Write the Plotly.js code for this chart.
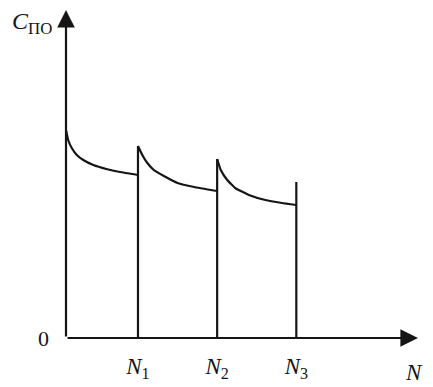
<!DOCTYPE html>
<html><head><meta charset="utf-8">
<script src="https://cdn.plot.ly/plotly-3.0.1.min.js"></script>
<style>html,body{margin:0;padding:0;background:#fff}</style>
</head><body><div id="chart" style="width:433px;height:387px"></div>
<script>
// Checkpoint positions along N
const nVals = [1.0, 2.1, 3.2];
const nLabels = ['<i>N</i><sub>1</sub>', '<i>N</i><sub>2</sub>', '<i>N</i><sub>3</sub>'];
// Cost segments
const seg1X = [0, 0.03, 0.08, 0.15, 0.24, 0.38, 0.56, 0.75, 1.0];
const seg1Y = [2.08, 1.98, 1.90, 1.83, 1.78, 1.73, 1.69, 1.66, 1.63];
const seg2X = [1.0, 1.06, 1.13, 1.22, 1.36, 1.55, 1.78, 2.1];
const seg2Y = [1.92, 1.83, 1.75, 1.68, 1.62, 1.55, 1.51, 1.47];
const seg3X = [2.1, 2.15, 2.24, 2.35, 2.54, 2.77, 3.0, 3.2];
const seg3Y = [1.79, 1.68, 1.58, 1.50, 1.43, 1.38, 1.35, 1.33];
// Heights of vertical drop lines at N1, N2, N3
const dropTops = [1.92, 1.79, 1.56];

const lineStyle = {color: '#151515', width: 2.2};
const traces = [];
[[seg1X, seg1Y], [seg2X, seg2Y], [seg3X, seg3Y]].forEach(([x, y]) => {
  traces.push({x, y, mode: 'lines', line: Object.assign({shape: 'spline', smoothing: 0.3}, lineStyle), hoverinfo: 'skip'});
});
nVals.forEach((n, i) => {
  traces.push({x: [n, n], y: [0, dropTops[i]], mode: 'lines', line: lineStyle, hoverinfo: 'skip'});
});

const layout = {
  width: 433, height: 387,
  margin: {l: 66, r: 10, t: 5, b: 49},
  paper_bgcolor: '#fff', plot_bgcolor: '#fff',
  showlegend: false,
  font: {family: 'Liberation Serif', color: '#151515', size: 22},
  xaxis: {range: [0, 4.96], showgrid: false, zeroline: false, showline: false,
          tickvals: nVals, ticktext: nLabels, ticks: '', ticklabelstandoff: 12,
          tickfont: {size: 23}, fixedrange: true},
  yaxis: {range: [0, 3.33], showgrid: false, zeroline: false, showline: false,
          tickvals: [0], ticktext: ['0'], ticks: '', ticklabelstandoff: 16,
          tickfont: {size: 22}, fixedrange: true},
  annotations: [
    {x: 4.89, y: 0, ax: 0, ay: 0, xref: 'x', yref: 'y', axref: 'x', ayref: 'y', text: '',
     showarrow: true, arrowhead: 2, arrowsize: 1.6, arrowwidth: 2.2, arrowcolor: '#151515'},
    {x: 0, y: 3.28, ax: 0, ay: 0, xref: 'x', yref: 'y', axref: 'x', ayref: 'y', text: '',
     showarrow: true, arrowhead: 2, arrowsize: 1.6, arrowwidth: 2.2, arrowcolor: '#151515'},
    {x: 4.83, y: 0, xref: 'x', yref: 'y', text: '<i>N</i>', showarrow: false,
     yanchor: 'top', yshift: -20, font: {size: 23}},
    {x: 0, y: 3.28, xref: 'x', yref: 'y', text: '<i>C</i><sub>ПО</sub>', showarrow: false,
     xanchor: 'right', xshift: -12, yanchor: 'top', yshift: 4, font: {size: 24}}
  ]
};
Plotly.newPlot('chart', traces, layout, {displayModeBar: false, staticPlot: true});
</script></body></html>
